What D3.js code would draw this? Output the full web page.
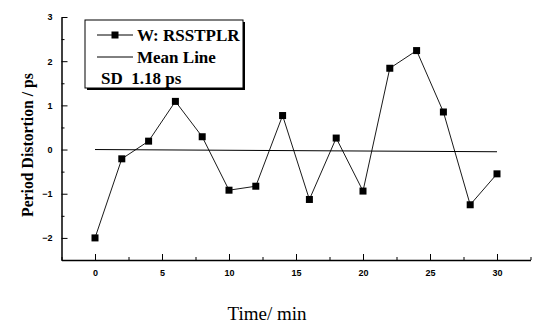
<!DOCTYPE html>
<html>
<head>
<meta charset="utf-8">
<script src="https://cdn.jsdelivr.net/npm/d3@7"></script>
<style>
  body { margin: 0; background: #fff; }
  svg { display: block; }
  .tick text { font-family: "Liberation Sans", Arial, sans-serif; font-size: 9px; font-weight: bold; }
</style>
</head>
<body>
<svg id="chart"></svg>
<script>
// Data
const timeMin = [0, 2, 4, 6, 8, 10, 12, 14, 16, 18, 20, 22, 24, 26, 28, 30];
const distortion = [-2.0, -0.21, 0.19, 1.09, 0.29, -0.92, -0.83, 0.77, -1.13, 0.26, -0.94, 1.84, 2.24, 0.85, -1.25, -0.55];
const meanX = [0, 30];
const meanY = [0.0, -0.05];
const xTicks = [0, 5, 10, 15, 20, 25, 30];
const yTicks = [-2, -1, 0, 1, 2, 3];

const W = 536, H = 324;
const serif = "'Liberation Serif', 'Times New Roman', serif";

const svg = d3.select("#chart").attr("width", W).attr("height", H);

// Scales
const x = d3.scaleLinear().domain([-2.5, 32.5]).range([61.5, 530.5]);
const y = d3.scaleLinear().domain([-2.5, 3]).range([260, 17]);

// Minor ticks (no labels)
svg.append("g")
    .attr("transform", `translate(0,${y(-2.5)})`)
    .call(d3.axisBottom(x).tickValues(d3.range(-2.5, 33, 5)).tickSize(-3).tickSizeOuter(0).tickFormat(""))
    .call(g => g.select(".domain").remove());
svg.append("g")
    .attr("transform", `translate(${x(-2.5)},0)`)
    .call(d3.axisLeft(y).tickValues(d3.range(-2.5, 3, 1)).tickSize(-3).tickSizeOuter(0).tickFormat(""))
    .call(g => g.select(".domain").remove());

// Major axes, ticks pointing inward
svg.append("g")
    .attr("transform", `translate(0,${y(-2.5)})`)
    .call(d3.axisBottom(x).tickValues(xTicks).tickFormat(d3.format("d")).tickSize(-6).tickSizeOuter(0).tickPadding(10))
    .call(g => g.select(".domain").attr("stroke-width", 1.5));
svg.append("g")
    .attr("transform", `translate(${x(-2.5)},0)`)
    .call(d3.axisLeft(y).tickValues(yTicks).tickFormat(d3.format("d")).tickSize(-6).tickSizeOuter(0).tickPadding(9))
    .call(g => g.select(".domain").attr("stroke-width", 1.5));

// Mean line
const line = d3.line().x(d => x(d[0])).y(d => y(d[1]));
svg.append("path")
    .datum(meanX.map((v, i) => [v, meanY[i]]))
    .attr("fill", "none").attr("stroke", "#000").attr("stroke-width", 1)
    .attr("d", line);

// Data line and markers
const pts = timeMin.map((t, i) => [t, distortion[i]]);
svg.append("path")
    .datum(pts)
    .attr("fill", "none").attr("stroke", "#000").attr("stroke-width", 0.9)
    .attr("d", line);
svg.selectAll(".pt").data(pts).enter().append("rect")
    .attr("class", "pt")
    .attr("x", d => x(d[0]) - 3.5).attr("y", d => y(d[1]) - 3.5)
    .attr("width", 7).attr("height", 7).attr("fill", "#000");

// Legend with shadow
const lg = svg.append("g").attr("transform", "translate(85,20)");
lg.append("rect").attr("x", 2).attr("y", 2).attr("width", 158).attr("height", 68).attr("fill", "#000");
lg.append("rect").attr("x", 0).attr("y", 0).attr("width", 158).attr("height", 68)
    .attr("fill", "#fff").attr("stroke", "#000").attr("stroke-width", 1);
lg.append("line").attr("x1", 12).attr("x2", 48).attr("y1", 15).attr("y2", 15).attr("stroke", "#000");
lg.append("rect").attr("x", 26.5).attr("y", 11.5).attr("width", 7).attr("height", 7).attr("fill", "#000");
lg.append("line").attr("x1", 12).attr("x2", 48).attr("y1", 37).attr("y2", 37).attr("stroke", "#000");
const legendText = [["W: RSSTPLR", 52, 21], ["Mean Line", 52, 43], ["SD  1.18 ps", 16, 64]];
lg.selectAll("text.lt").data(legendText).enter().append("text")
    .attr("class", "lt")
    .attr("x", d => d[1]).attr("y", d => d[2])
    .attr("font-family", serif)
    .attr("font-weight", "bold").attr("font-size", 17)
    .attr("xml:space", "preserve")
    .style("white-space", "pre")
    .text(d => d[0]);

// Axis titles
svg.append("text")
    .attr("transform", "translate(33,145) rotate(-90)")
    .attr("text-anchor", "middle")
    .attr("font-family", serif)
    .attr("font-weight", "bold").attr("font-size", 17)
    .attr("textLength", 144).attr("lengthAdjust", "spacingAndGlyphs")
    .text("Period Distortion / ps");
svg.append("text")
    .attr("x", 267).attr("y", 320)
    .attr("text-anchor", "middle")
    .attr("font-family", serif)
    .attr("font-size", 19)
    .text("Time/ min");
</script>
</body>
</html>
